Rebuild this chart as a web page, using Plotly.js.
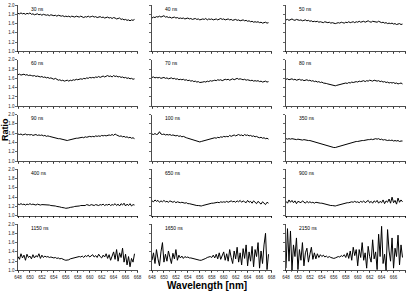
<!DOCTYPE html>
<html><head><meta charset="utf-8">
<script src="https://cdn.plot.ly/plotly-3.0.1.min.js"></script>
<style>html,body{margin:0;padding:0;background:#fff;}#chart{width:409px;height:293px;}</style>
</head><body><div id="chart"></div>
<script>
// Wavelength grid [nm]
const wavelength = [648.0,648.25,648.5,648.75,649.0,649.25,649.5,649.75,650.0,650.25,
650.5,650.75,651.0,651.25,651.5,651.75,652.0,652.25,652.5,652.75,
653.0,653.25,653.5,653.75,654.0,654.25,654.5,654.75,655.0,655.25,
655.5,655.75,656.0,656.25,656.5,656.75,657.0,657.25,657.5,657.75,
658.0,658.25,658.5,658.75,659.0,659.25,659.5,659.75,660.0,660.25,
660.5,660.75,661.0,661.25,661.5,661.75,662.0,662.25,662.5,662.75,
663.0,663.25,663.5,663.75,664.0,664.25,664.5,664.75,665.0,665.25,
665.5,665.75,666.0,666.25,666.5,666.75,667.0,667.25,667.5];

const panelLabels = ["30 ns","40 ns","50 ns","60 ns","70 ns","80 ns","90 ns","100 ns","350 ns","400 ns","650 ns","900 ns","1150 ns","1650 ns","2150 ns"];

const xTickVals = [648,650,652,654,656,658,660,662,664,666,668];
const yTickVals = [1.0,1.2,1.4,1.6,1.8,2.0];

const ratio30 = [1.82,1.81,1.83,1.81,1.82,1.80,1.82,1.81,1.83,1.80,
1.81,1.79,1.80,1.81,1.79,1.80,1.78,1.80,1.79,1.78,
1.79,1.77,1.79,1.78,1.77,1.78,1.76,1.78,1.77,1.76,
1.77,1.75,1.76,1.75,1.76,1.74,1.76,1.75,1.74,1.76,
1.75,1.74,1.76,1.75,1.73,1.75,1.74,1.76,1.74,1.75,
1.76,1.74,1.75,1.73,1.74,1.75,1.73,1.74,1.72,1.73,
1.74,1.72,1.73,1.71,1.73,1.72,1.70,1.71,1.72,1.69,
1.70,1.68,1.69,1.67,1.68,1.66,1.68,1.67,1.69];

const ratio40 = [1.72,1.74,1.73,1.75,1.74,1.76,1.74,1.75,1.77,1.74,
1.75,1.73,1.74,1.72,1.73,1.74,1.72,1.73,1.71,1.72,
1.71,1.72,1.70,1.71,1.72,1.70,1.71,1.69,1.70,1.71,
1.69,1.70,1.68,1.69,1.70,1.69,1.71,1.68,1.70,1.69,
1.70,1.68,1.69,1.70,1.68,1.69,1.71,1.69,1.70,1.68,
1.69,1.70,1.68,1.69,1.67,1.68,1.69,1.67,1.68,1.66,
1.67,1.68,1.66,1.67,1.65,1.66,1.64,1.65,1.63,1.64,
1.63,1.64,1.62,1.63,1.61,1.62,1.63,1.61,1.62];

const ratio50 = [1.68,1.69,1.67,1.68,1.70,1.68,1.67,1.69,1.68,1.67,
1.68,1.66,1.67,1.68,1.66,1.67,1.65,1.66,1.64,1.65,
1.64,1.65,1.63,1.64,1.63,1.62,1.64,1.63,1.62,1.63,
1.61,1.62,1.61,1.60,1.61,1.62,1.61,1.63,1.62,1.61,
1.63,1.62,1.64,1.62,1.63,1.64,1.62,1.64,1.63,1.65,
1.63,1.64,1.65,1.63,1.64,1.66,1.64,1.63,1.65,1.64,
1.64,1.63,1.65,1.63,1.62,1.63,1.61,1.62,1.60,1.61,
1.60,1.61,1.59,1.60,1.58,1.59,1.60,1.58,1.59];

const ratio60 = [1.68,1.69,1.67,1.68,1.69,1.67,1.68,1.66,1.67,1.66,
1.65,1.66,1.64,1.65,1.64,1.63,1.64,1.62,1.63,1.61,
1.62,1.60,1.61,1.59,1.58,1.60,1.57,1.56,1.57,1.55,
1.56,1.54,1.55,1.56,1.54,1.56,1.55,1.57,1.56,1.58,
1.57,1.58,1.59,1.58,1.60,1.59,1.61,1.60,1.62,1.61,
1.62,1.61,1.63,1.62,1.64,1.62,1.63,1.65,1.63,1.64,
1.66,1.64,1.65,1.63,1.66,1.64,1.65,1.63,1.64,1.62,
1.63,1.61,1.62,1.60,1.61,1.59,1.60,1.58,1.59];

const ratio70 = [1.62,1.63,1.61,1.62,1.61,1.62,1.60,1.61,1.62,1.60,
1.61,1.59,1.60,1.61,1.59,1.60,1.58,1.59,1.57,1.58,
1.57,1.58,1.56,1.57,1.55,1.56,1.54,1.55,1.53,1.54,
1.52,1.53,1.51,1.51,1.52,1.53,1.52,1.54,1.53,1.55,
1.54,1.55,1.56,1.55,1.57,1.56,1.57,1.55,1.57,1.58,
1.57,1.58,1.56,1.58,1.59,1.57,1.58,1.60,1.58,1.59,
1.58,1.57,1.58,1.56,1.57,1.56,1.55,1.56,1.54,1.55,
1.54,1.55,1.53,1.54,1.52,1.53,1.54,1.52,1.53];

const ratio80 = [1.58,1.59,1.57,1.58,1.59,1.57,1.58,1.56,1.57,1.58,
1.56,1.57,1.55,1.56,1.57,1.55,1.56,1.54,1.55,1.53,
1.54,1.52,1.53,1.51,1.52,1.50,1.50,1.49,1.48,1.47,
1.47,1.46,1.45,1.44,1.45,1.46,1.47,1.48,1.48,1.49,
1.50,1.49,1.51,1.50,1.52,1.51,1.52,1.53,1.52,1.54,
1.53,1.54,1.55,1.53,1.55,1.54,1.56,1.55,1.54,1.56,
1.55,1.54,1.55,1.53,1.54,1.52,1.53,1.51,1.52,1.50,
1.51,1.50,1.51,1.49,1.50,1.48,1.49,1.50,1.48];

const ratio90 = [1.58,1.57,1.58,1.56,1.57,1.58,1.56,1.57,1.56,1.57,
1.55,1.56,1.57,1.55,1.56,1.55,1.56,1.54,1.55,1.53,
1.54,1.53,1.52,1.51,1.51,1.50,1.49,1.48,1.48,1.47,
1.46,1.45,1.44,1.44,1.45,1.46,1.47,1.47,1.48,1.49,
1.49,1.50,1.50,1.51,1.50,1.52,1.51,1.52,1.53,1.52,
1.53,1.52,1.54,1.53,1.54,1.53,1.55,1.54,1.55,1.54,
1.55,1.56,1.55,1.57,1.55,1.58,1.56,1.54,1.53,1.54,
1.52,1.53,1.51,1.52,1.50,1.51,1.49,1.50,1.48];

const ratio100 = [1.58,1.57,1.59,1.57,1.58,1.63,1.58,1.57,1.58,1.56,
1.57,1.56,1.57,1.55,1.56,1.55,1.54,1.55,1.53,1.54,
1.52,1.53,1.51,1.50,1.49,1.48,1.47,1.46,1.45,1.44,
1.43,1.42,1.41,1.42,1.43,1.44,1.45,1.46,1.47,1.48,
1.48,1.49,1.50,1.49,1.51,1.50,1.52,1.51,1.53,1.52,
1.53,1.52,1.55,1.53,1.54,1.56,1.54,1.55,1.57,1.55,
1.56,1.54,1.57,1.55,1.56,1.54,1.55,1.53,1.54,1.52,
1.53,1.51,1.50,1.51,1.49,1.50,1.48,1.49,1.47];

const ratio350 = [1.48,1.47,1.48,1.47,1.48,1.47,1.47,1.46,1.47,1.46,
1.46,1.45,1.46,1.45,1.45,1.44,1.44,1.43,1.42,1.41,
1.40,1.39,1.38,1.37,1.36,1.35,1.34,1.33,1.32,1.31,
1.30,1.30,1.29,1.29,1.30,1.31,1.32,1.33,1.34,1.35,
1.36,1.37,1.38,1.39,1.40,1.40,1.41,1.42,1.42,1.43,
1.43,1.44,1.44,1.45,1.45,1.46,1.46,1.47,1.46,1.47,
1.48,1.47,1.48,1.46,1.47,1.45,1.46,1.45,1.44,1.45,
1.44,1.45,1.43,1.44,1.43,1.44,1.42,1.43,1.43];

const ratio400 = [1.25,1.24,1.26,1.24,1.25,1.23,1.25,1.24,1.26,1.24,
1.25,1.24,1.23,1.25,1.24,1.23,1.24,1.24,1.23,1.24,
1.23,1.23,1.22,1.22,1.21,1.21,1.20,1.20,1.19,1.18,
1.18,1.17,1.16,1.16,1.17,1.18,1.18,1.19,1.20,1.20,
1.21,1.21,1.22,1.22,1.23,1.22,1.24,1.23,1.22,1.24,
1.23,1.22,1.24,1.23,1.22,1.24,1.23,1.25,1.22,1.24,
1.23,1.25,1.22,1.24,1.23,1.26,1.22,1.25,1.21,1.26,
1.23,1.27,1.21,1.25,1.22,1.26,1.21,1.24,1.23];

const ratio650 = [1.32,1.30,1.34,1.31,1.33,1.29,1.32,1.30,1.33,1.30,
1.31,1.29,1.32,1.30,1.29,1.31,1.28,1.30,1.29,1.28,
1.29,1.28,1.27,1.28,1.26,1.26,1.25,1.24,1.24,1.23,
1.22,1.22,1.21,1.21,1.22,1.23,1.24,1.25,1.25,1.26,
1.27,1.27,1.28,1.28,1.29,1.28,1.30,1.29,1.30,1.29,
1.31,1.29,1.30,1.32,1.30,1.31,1.29,1.32,1.30,1.33,
1.29,1.32,1.30,1.28,1.33,1.29,1.31,1.27,1.32,1.29,
1.26,1.31,1.28,1.25,1.30,1.27,1.24,1.29,1.27];

const ratio900 = [1.31,1.27,1.34,1.29,1.33,1.28,1.32,1.26,1.31,1.30,
1.28,1.32,1.29,1.27,1.31,1.28,1.30,1.28,1.29,1.27,
1.29,1.28,1.28,1.27,1.27,1.26,1.25,1.25,1.24,1.23,
1.22,1.22,1.21,1.21,1.22,1.23,1.24,1.25,1.26,1.26,
1.27,1.28,1.28,1.29,1.30,1.29,1.31,1.29,1.30,1.28,
1.31,1.29,1.32,1.28,1.30,1.33,1.28,1.31,1.27,1.32,
1.29,1.33,1.27,1.31,1.28,1.34,1.26,1.32,1.29,1.36,
1.27,1.40,1.28,1.33,1.25,1.38,1.29,1.34,1.30];

const ratio1150 = [1.30,1.24,1.36,1.27,1.33,1.22,1.35,1.28,1.31,1.25,
1.34,1.27,1.32,1.29,1.36,1.26,1.33,1.28,1.31,1.29,
1.30,1.28,1.29,1.28,1.27,1.28,1.26,1.27,1.25,1.26,
1.24,1.23,1.22,1.22,1.23,1.25,1.26,1.27,1.28,1.29,
1.29,1.30,1.29,1.31,1.28,1.32,1.30,1.33,1.29,1.31,
1.34,1.29,1.32,1.28,1.35,1.30,1.27,1.33,1.29,1.36,
1.26,1.34,1.22,1.31,1.40,1.24,1.45,1.20,1.38,1.28,
1.48,1.18,1.35,1.12,1.30,1.08,1.26,1.18,1.36];

const ratio1650 = [1.22,1.38,1.15,1.45,1.25,1.10,1.40,1.60,1.18,1.35,
1.20,1.42,1.28,1.15,1.37,1.25,1.45,1.22,1.33,1.27,
1.31,1.26,1.30,1.28,1.29,1.27,1.27,1.26,1.25,1.25,
1.24,1.23,1.22,1.22,1.23,1.25,1.26,1.28,1.29,1.30,
1.28,1.33,1.27,1.35,1.25,1.38,1.24,1.32,1.40,1.22,
1.36,1.20,1.45,1.28,1.15,1.42,1.25,1.50,1.18,1.38,
1.12,1.47,1.26,1.55,1.10,1.40,1.20,1.52,1.08,1.45,
1.30,1.60,1.05,1.42,1.15,1.55,1.80,1.02,1.35];

const ratio2150 = [1.05,1.90,1.20,1.85,1.00,1.55,1.30,1.70,1.02,1.45,
1.22,1.60,1.10,1.38,1.48,1.18,1.35,1.50,1.24,1.38,
1.25,1.36,1.28,1.34,1.30,1.33,1.29,1.31,1.28,1.30,
1.28,1.27,1.26,1.27,1.28,1.30,1.29,1.32,1.30,1.34,
1.28,1.38,1.26,1.42,1.22,1.50,1.32,1.45,1.10,1.45,
1.28,1.60,1.22,1.38,1.05,1.52,1.30,1.18,1.66,1.25,
1.40,1.02,1.78,1.30,1.95,1.15,1.35,1.00,1.88,1.42,
1.20,1.70,1.05,1.48,1.30,1.76,1.12,1.55,1.28];

const seriesList = [ratio30,ratio40,ratio50,ratio60,ratio70,ratio80,ratio90,ratio100,ratio350,ratio400,ratio650,ratio900,ratio1150,ratio1650,ratio2150];

// Layout geometry (pixels)
const W = 409, H = 293;
const colLeft = [18, 152, 286], colWidth = 119.5;
const rowTop = [5, 59.75, 114.5, 169.25, 224], rowHeight = 46.5;

const traces = [];
const layout = {
  width: W, height: H,
  margin: {l:0, r:0, t:0, b:0},
  paper_bgcolor: '#fff', plot_bgcolor: '#fff',
  showlegend: false,
  font: {family: 'Liberation Sans, Arial, sans-serif', color: '#000'},
  annotations: []
};

seriesList.forEach((ys, k) => {
  const row = Math.floor(k / 3), col = k % 3;
  const n = k + 1;
  const xa = n === 1 ? 'x' : 'x' + n;
  const ya = n === 1 ? 'y' : 'y' + n;
  traces.push({
    x: wavelength, y: ys, xaxis: xa, yaxis: ya,
    type: 'scatter', mode: 'lines',
    line: {color: '#000', width: 1},
    hoverinfo: 'skip'
  });
  const common = {
    showline: true, linecolor: '#000', linewidth: 0.7,
    ticks: 'outside', ticklen: 2, tickwidth: 0.6, tickcolor: '#000',
    showgrid: false, zeroline: false, fixedrange: true,
    tickfont: {size: 4.5, color: '#222', family: 'Liberation Sans, Arial, sans-serif'}
  };
  layout[n === 1 ? 'xaxis' : 'xaxis' + n] = Object.assign({}, common, {
    domain: [colLeft[col] / W, (colLeft[col] + colWidth) / W],
    anchor: ya, range: [648, 668],
    tickmode: 'array', tickvals: xTickVals, ticktext: xTickVals.map(String),
    showticklabels: row === 4, ticklabelstandoff: 0,
    minor: {dtick: 1, tick0: 648, ticks: 'outside', ticklen: 1.2, tickcolor: '#000', tickwidth: 0.5, showgrid: false}
  });
  layout[n === 1 ? 'yaxis' : 'yaxis' + n] = Object.assign({}, common, {
    domain: [1 - (rowTop[row] + rowHeight) / H, 1 - rowTop[row] / H],
    anchor: xa, range: [1, 2],
    tickmode: 'array', tickvals: yTickVals, ticktext: yTickVals.map(v => v.toFixed(1)),
    showticklabels: col === 0, ticklabelstandoff: 0
  });
  layout.annotations.push({
    xref: xa, yref: ya, x: 649.8, y: 1.92, xanchor: 'left', yanchor: 'middle',
    text: panelLabels[k], showarrow: false,
    font: {size: 5, color: '#000', family: 'Liberation Sans, Arial, sans-serif'}
  });
});

layout.annotations.push({
  xref: 'paper', yref: 'paper', x: 207 / W, y: 1 - 285 / H,
  xanchor: 'center', yanchor: 'middle', showarrow: false,
  text: '<b>Wavelength [nm]</b>',
  font: {size: 10, color: '#000', family: 'Liberation Sans, Arial, sans-serif'}
});
layout.annotations.push({
  xref: 'paper', yref: 'paper', x: 5 / W, y: 1 - 130 / H,
  xanchor: 'center', yanchor: 'middle', showarrow: false, textangle: -90,
  text: '<b>Ratio</b>',
  font: {size: 9, color: '#000', family: 'Liberation Sans, Arial, sans-serif'}
});

Plotly.newPlot('chart', traces, layout, {staticPlot: true, displayModeBar: false});
</script>
</body></html>
